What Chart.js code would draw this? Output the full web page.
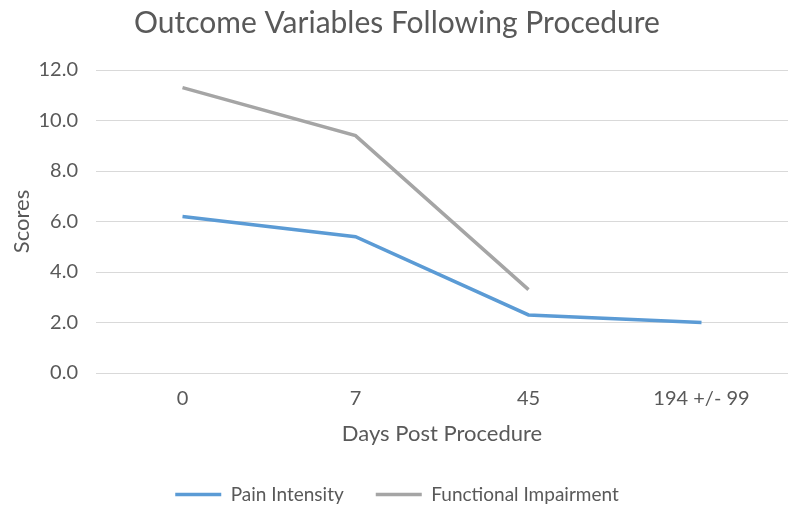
<!DOCTYPE html>
<html>
<head>
<meta charset="utf-8">
<script src="https://cdn.jsdelivr.net/npm/chart.js@4"></script>
<style>
  html, body { margin: 0; padding: 0; background: #fff; }
  #wrap { width: 800px; height: 516px; position: relative; }
</style>
</head>
<body>
<div id="wrap"><canvas id="chart"></canvas></div>
<script>
var days        = ['0', '7', '45', '194 +/- 99'];
var painScores  = [6.2, 5.4, 2.3, 2.0];
var funcScores  = [11.3, 9.4, 3.3, null];
var yTicksMax   = 12;
var yTicksStep  = 2;

var textColor = '#595959';
var fontFam   = 'Lato, "Open Sans", sans-serif';

new Chart(document.getElementById('chart'), {
  type: 'line',
  data: {
    labels: days,
    datasets: [
      { label: 'Pain Intensity', data: painScores, borderColor: '#5B9BD5', backgroundColor: '#5B9BD5', borderWidth: 3.5, pointRadius: 0, tension: 0, fill: false },
      { label: 'Functional Impairment', data: funcScores, borderColor: '#A5A5A5', backgroundColor: '#A5A5A5', borderWidth: 3.5, pointRadius: 0, tension: 0, fill: false }
    ]
  },
  options: {
    responsive: true, maintainAspectRatio: false, animation: false,
    layout: { padding: { left: 6, right: 12, top: 2, bottom: 2 } },
    plugins: {
      title: { display: true, text: 'Outcome Variables Following Procedure', color: textColor, font: { family: fontFam, size: 30, weight: 'normal' }, padding: { top: 3, bottom: 29 } },
      legend: {
        position: 'bottom',
        labels: { usePointStyle: true, pointStyle: 'line', pointStyleWidth: 46, color: textColor, font: { family: fontFam, size: 19 }, padding: 32 }
      },
      tooltip: { enabled: false }
    },
    scales: {
      x: {
        offset: true,
        grid: { display: false, drawTicks: false },
        border: { display: false },
        ticks: { color: textColor, font: { family: fontFam, size: 20 }, padding: 14 },
        title: { display: true, text: 'Days Post Procedure', color: textColor, font: { family: fontFam, size: 22 }, padding: { top: 0, bottom: 6 } },
        afterFit: function(scale){ scale.height = 80; }
      },
      y: {
        min: 0, max: yTicksMax,
        grid: { color: '#D9D9D9', lineWidth: 1, drawTicks: false },
        border: { display: false },
        ticks: { stepSize: yTicksStep, color: textColor, font: { family: fontFam, size: 20 }, padding: 18,
          callback: function(v){ return v.toFixed(1); } },
        title: { display: true, text: 'Scores', color: textColor, font: { family: fontFam, size: 22 }, padding: { top: 3, bottom: 4 } },
        afterFit: function(scale){ scale.width = 90; }
      }
    }
  }
});
</script>
</body>
</html>
